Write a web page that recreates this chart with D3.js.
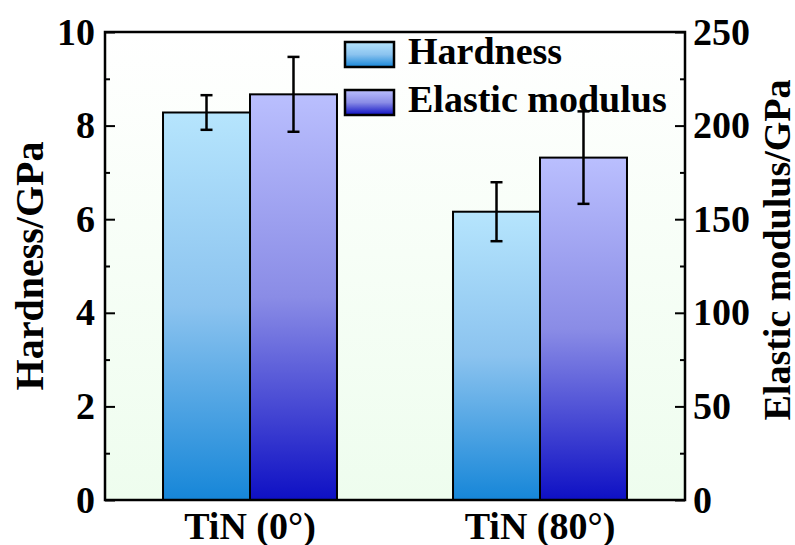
<!DOCTYPE html>
<html>
<head>
<meta charset="utf-8">
<script src="https://cdn.jsdelivr.net/npm/d3@7"></script>
<style>
  body { margin: 0; background: #fff; overflow: hidden; }
  svg { display: block; }
  text { font-family: "Liberation Serif", "Times New Roman", serif; font-weight: bold; fill: #000; }
</style>
</head>
<body>
<div id="chart"></div>
<script>
// Data
const categories = ["TiN (0°)", "TiN (80°)"];
const series = ["Hardness", "Elastic modulus"];
const hardness = [8.28, 6.16];
const hardnessErr = [0.37, 0.63];
const modulus = [216.7, 182.9];
const modulusErr = [20.0, 24.7];
const leftTicks = [0, 2, 4, 6, 8, 10];
const rightTicks = [0, 50, 100, 150, 200, 250];

const width = 795, height = 545;
const margin = {top: 32, right: 110, bottom: 45, left: 105};
const innerWidth = width - margin.left - margin.right;
const innerHeight = height - margin.top - margin.bottom;

const svg = d3.select("#chart").append("svg")
    .attr("width", width)
    .attr("height", height);

// Gradients
const defs = svg.append("defs");
function addGradient(id, stops) {
    const grad = defs.append("linearGradient")
        .attr("id", id)
        .attr("x1", 0).attr("y1", 0).attr("x2", 0).attr("y2", 1);
    stops.forEach(s => grad.append("stop").attr("offset", s[0]).attr("stop-color", s[1]));
}
addGradient("bgGrad", [[0, "#ffffff"], [1, "#eefdee"]]);
addGradient("hardGrad", [[0, "#b6e5fd"], [0.5, "#8bc3ef"], [1, "#1686d8"]]);
addGradient("modGrad", [[0, "#babffe"], [0.5, "#8a8ce6"], [1, "#0e10c4"]]);
const fills = ["url(#hardGrad)", "url(#modGrad)"];

const g = svg.append("g")
    .attr("transform", `translate(${margin.left},${margin.top})`);

// Scales
const x0 = d3.scaleBand()
    .domain(categories)
    .range([0, innerWidth]);

const x1 = d3.scaleBand()
    .domain(series)
    .range([0, x0.bandwidth()])
    .paddingInner(0)
    .paddingOuter(0.667);

const yLeft = d3.scaleLinear().domain([0, 10]).range([innerHeight, 0]);
const yRight = d3.scaleLinear().domain([0, 250]).range([innerHeight, 0]);

// Background
g.append("rect")
    .attr("width", innerWidth)
    .attr("height", innerHeight)
    .attr("fill", "url(#bgGrad)");

// Bars
const barData = categories.flatMap((c, i) => [
    {cat: c, s: series[0], y: yLeft, v: hardness[i], e: hardnessErr[i], fill: fills[0]},
    {cat: c, s: series[1], y: yRight, v: modulus[i], e: modulusErr[i], fill: fills[1]}
]);

g.selectAll(".bar")
    .data(barData)
    .enter().append("rect")
    .attr("class", "bar")
    .attr("x", d => x0(d.cat) + x1(d.s))
    .attr("y", d => d.y(d.v))
    .attr("width", x1.bandwidth())
    .attr("height", d => innerHeight - d.y(d.v))
    .attr("fill", d => d.fill)
    .attr("stroke", "#000")
    .attr("stroke-width", 2);

// Error bars
const err = g.selectAll(".err")
    .data(barData)
    .enter().append("g")
    .attr("class", "err")
    .attr("transform", d => `translate(${x0(d.cat) + x1(d.s) + x1.bandwidth() / 2},0)`);

err.append("line")
    .attr("y1", d => d.y(d.v + d.e))
    .attr("y2", d => d.y(d.v - d.e))
    .attr("stroke", "#000").attr("stroke-width", 2.5);

[1, -1].forEach(sign => {
    err.append("line")
        .attr("x1", -6).attr("x2", 6)
        .attr("y1", d => d.y(d.v + sign * d.e))
        .attr("y2", d => d.y(d.v + sign * d.e))
        .attr("stroke", "#000").attr("stroke-width", 2.5);
});

// Axes (ticks point inward)
const leftAxis = g.append("g")
    .call(d3.axisLeft(yLeft).tickValues(leftTicks).tickFormat(d3.format("d"))
        .tickSize(-10).tickPadding(10));
const leftMinor = g.append("g")
    .call(d3.axisLeft(yLeft).tickValues(d3.range(1, 10, 2)).tickFormat("").tickSize(-5));

const rightAxis = g.append("g")
    .attr("transform", `translate(${innerWidth},0)`)
    .call(d3.axisRight(yRight).tickValues(rightTicks).tickFormat(d3.format("d"))
        .tickSize(-10).tickPadding(8));
const rightMinor = g.append("g")
    .attr("transform", `translate(${innerWidth},0)`)
    .call(d3.axisRight(yRight).tickValues(d3.range(25, 250, 50)).tickFormat("").tickSize(-5));

const xAxis = g.append("g")
    .attr("transform", `translate(0,${innerHeight})`)
    .call(d3.axisBottom(x0).tickSize(0).tickPadding(12));

[leftAxis, leftMinor, rightAxis, rightMinor, xAxis].forEach(a => {
    a.attr("font-family", null).attr("font-size", 38);
    a.select(".domain").remove();
    a.selectAll("line").attr("stroke", "#000").attr("stroke-width", 2);
    a.selectAll("text").style("font-size", "38px");
});

// Frame
g.append("rect")
    .attr("width", innerWidth)
    .attr("height", innerHeight)
    .attr("fill", "none")
    .attr("stroke", "#000")
    .attr("stroke-width", 2.5);

// Axis titles
svg.append("text")
    .attr("transform", `translate(43,${margin.top + innerHeight / 2}) rotate(-90)`)
    .attr("text-anchor", "middle")
    .style("font-size", "40px")
    .text("Hardness/GPa");

svg.append("text")
    .attr("transform", `translate(790,${margin.top + innerHeight / 2 - 16}) rotate(-90)`)
    .attr("text-anchor", "middle")
    .style("font-size", "38px")
    .text("Elastic modulus/GPa");

// Legend
const legend = g.append("g").attr("transform", "translate(240,10)");
series.forEach((s, i) => {
    const row = legend.append("g").attr("transform", `translate(0,${i * 48})`);
    row.append("rect")
        .attr("width", 49).attr("height", 25)
        .attr("fill", fills[i])
        .attr("stroke", "#000").attr("stroke-width", 2.5);
    row.append("text")
        .attr("x", 63).attr("y", 22)
        .style("font-size", "38px")
        .text(s);
});
</script>
</body>
</html>
